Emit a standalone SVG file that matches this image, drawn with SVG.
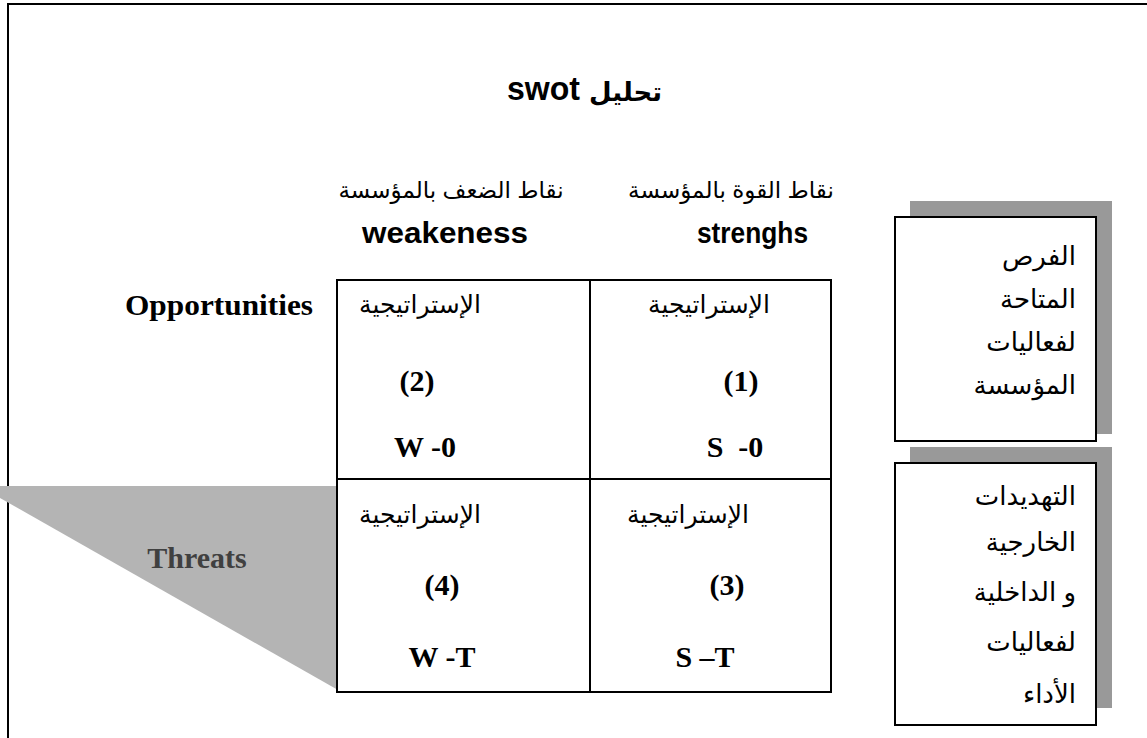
<svg xmlns="http://www.w3.org/2000/svg" width="1147" height="738" viewBox="0 0 1147 738">
<style>
.ar{font-family:"Liberation Sans","DejaVu Sans",sans-serif;font-size:23px;fill:#000}
.arc{font-family:"Liberation Sans","DejaVu Sans",sans-serif;font-size:25px;fill:#000}
.arb{font-family:"Liberation Sans","DejaVu Sans",sans-serif;font-size:26px;fill:#000}
.hd{font-family:"Liberation Sans","DejaVu Sans",sans-serif;font-size:30px;font-weight:bold;fill:#000}
.tm{font-family:"Liberation Serif","DejaVu Serif",serif;font-size:30px;font-weight:bold;fill:#000}
.ln{stroke:#000;stroke-width:2;fill:none}
.bx{fill:#fff;stroke:#000;stroke-width:2}
.sh{fill:#999}
</style>
<rect width="1147" height="738" fill="#fff"/>
<g id="frame"><path class="ln" d="M8 738 V4 H1147"/></g>
<g id="threats">
<polygon points="-21,486 338,486 338,690" fill="#b4b4b4"/>
<text class="tm" x="197" y="568" text-anchor="middle" style="fill:#404040">Threats</text>
</g>
<g id="title">
<text class="hd" x="507" y="100" style="font-size:34px" textLength="73" lengthAdjust="spacingAndGlyphs">swot</text>
<text class="hd" x="662" y="101" style="font-size:26px" text-anchor="end">تحليل</text>
</g>
<g id="headers">
<text class="ar" x="451" y="198" text-anchor="middle">نقاط الضعف بالمؤسسة</text>
<text class="ar" x="731" y="198" text-anchor="middle">نقاط القوة بالمؤسسة</text>
<text class="hd" x="362" y="243" textLength="166" lengthAdjust="spacingAndGlyphs">weakeness</text>
<text class="hd" x="697" y="243" textLength="111" lengthAdjust="spacingAndGlyphs">strenghs</text>
</g>
<g id="opportunities"><text class="tm" x="125" y="315" textLength="188" lengthAdjust="spacingAndGlyphs">Opportunities</text></g>
<g id="grid">
<rect class="ln" x="337" y="280" width="494" height="412"/>
<path class="ln" d="M590 280 V692 M337 479 H831"/>
</g>
<g id="cell1">
<text class="arc" x="709" y="313" text-anchor="middle">الإستراتيجية</text>
<text class="tm" x="741" y="391" text-anchor="middle">(1)</text>
<text class="tm" x="735" y="457" text-anchor="middle" xml:space="preserve">S  -0</text>
</g>
<g id="cell2">
<text class="arc" x="420" y="313" text-anchor="middle">الإستراتيجية</text>
<text class="tm" x="417" y="391" text-anchor="middle">(2)</text>
<text class="tm" x="425" y="457" text-anchor="middle">W -0</text>
</g>
<g id="cell3">
<text class="arc" x="688" y="523" text-anchor="middle">الإستراتيجية</text>
<text class="tm" x="727" y="595" text-anchor="middle">(3)</text>
<text class="tm" x="705" y="667" text-anchor="middle">S –T</text>
</g>
<g id="cell4">
<text class="arc" x="420" y="523" text-anchor="middle">الإستراتيجية</text>
<text class="tm" x="442" y="595" text-anchor="middle">(4)</text>
<text class="tm" x="442" y="667" text-anchor="middle">W -T</text>
</g>
<g id="box-opportunities">
<rect class="sh" x="910" y="201" width="202" height="233"/>
<rect class="bx" x="895" y="217" width="201" height="224"/>
<text class="arb" x="1076" y="265" text-anchor="end">الفرص</text>
<text class="arb" x="1076" y="308" text-anchor="end">المتاحة</text>
<text class="arb" x="1076" y="351" text-anchor="end">لفعاليات</text>
<text class="arb" x="1076" y="394" text-anchor="end">المؤسسة</text>
</g>
<g id="box-threats">
<rect class="sh" x="910" y="447" width="202" height="261"/>
<rect class="bx" x="895" y="463" width="201" height="262"/>
<text class="arb" x="1076" y="505" text-anchor="end">التهديدات</text>
<text class="arb" x="1076" y="551" text-anchor="end">الخارجية</text>
<text class="arb" x="1076" y="601" text-anchor="end">و الداخلية</text>
<text class="arb" x="1076" y="651" text-anchor="end">لفعاليات</text>
<text class="arb" x="1076" y="703" text-anchor="end">الأداء</text>
</g>
</svg>
